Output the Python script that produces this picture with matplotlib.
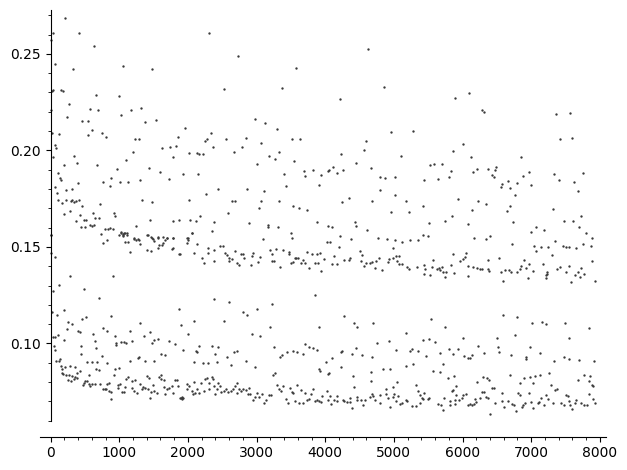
#!/usr/bin/env python3

import numpy as np
import matplotlib
matplotlib.use("Agg")
import matplotlib.pyplot as plt
from matplotlib.ticker import MultipleLocator, FormatStrFormatter

# points, (x, y), split by region of the picture
top_left = [
    (210,0.2684),(40,0.2607),(420,0.2607),(5,0.2572),(635,0.2540),(70,0.2447),(330,0.2421),(1060,0.2436),
    (1480,0.2421),(2310,0.2607),(2725,0.2488),(3570,0.2426),(2525,0.2317),(3370,0.2322),(15,0.2310),(40,0.2313),
    (150,0.2313),(185,0.2308),(665,0.2286),(1000,0.2281),(270,0.2240),(5,0.2210),(575,0.2214),(695,0.2210),
    (1320,0.2219),(1175,0.2210),(1030,0.2183),(240,0.2172),(460,0.2152),(550,0.2152),(1540,0.2157),(1375,0.2147),
    (2975,0.2164),(3120,0.2141),(1960,0.2116),(3295,0.2112),(605,0.2105),(15,0.2090),(125,0.2084),(550,0.2079),
    (750,0.2090),(810,0.2069),(1230,0.2059),(1290,0.2059),(1855,0.2069),(2335,0.2090),(2280,0.2059),(2250,0.2048),
    (2555,0.2059),(2845,0.2064),(3515,0.2059),(3630,0.2059),(70,0.2028),(80,0.2012),(1625,0.2012),(1740,0.2017),
    (1830,0.2022),(2365,0.2017),(2790,0.2017),(3065,0.2038),(2670,0.1991),(3325,0.1991),(40,0.1966),(345,0.1971),
    (1200,0.1991),(1785,0.1966),(2015,0.1986),(2135,0.1986),(2160,0.1981),(2220,0.1981),(3180,0.1971),(3270,0.1955),
    (200,0.1924),(390,0.1935),(680,0.1924),(1100,0.1950),(3005,0.1929),(3545,0.1945),(970,0.1904),(1435,0.1909),
    (3690,0.1893),(3820,0.1898),(110,0.1883),(1595,0.1888),(2150,0.1878),(1925,0.1878),(3400,0.1878),(3705,0.1869),
    (140,0.1858),(155,0.1847),(765,0.1838),(880,0.1858),(1015,0.1834),(1130,0.1838),(1305,0.1847),(1725,0.1852),
    (400,0.1831),(870,0.1815),(70,0.1810),(2440,0.1800),(2860,0.1800),(3110,0.1790),(3430,0.1815),(3910,0.1819),
    (230,0.1795),(315,0.1800),(95,0.1779),(2265,0.1774),(110,0.1745),(230,0.1745),(290,0.1736),(315,0.1745),
    (345,0.1733),(375,0.1736),(415,0.1745),(170,0.1728),(1335,0.1741),(1480,0.1733),(2015,0.1745),(2640,0.1740),
    (2685,0.1736),(720,0.1722),(460,0.1712),(3065,0.1736),(3035,0.1700),(3325,0.1736),(3530,0.1712),(3615,0.1700),
    (3735,0.1691),(285,0.1686),(200,0.1671),(620,0.1676),(925,0.1676),(940,0.1662),(430,0.1665),(2585,0.1676),
    (375,0.1633),(490,0.1639),(520,0.1639),(1450,0.1639),(1780,0.1635),(1870,0.1639),(2030,0.1639),(2120,0.1635),
    (2175,0.1660),(2380,0.1631),(2890,0.1624),(3880,0.1629),(445,0.1603),(505,0.1603),(575,0.1614),(605,0.1608),
    (635,0.1614),(650,0.1650),(710,0.1650),(795,0.1593),(840,0.1593),(870,0.1598),(915,0.1593),(1245,0.1609),
    (2060,0.1572),(2350,0.1583),(3165,0.1614),(3165,0.1603),(3310,0.1603),(3500,0.1572),(1030,0.1577),(1070,0.1572),
    (1115,0.1572),(1060,0.1562),(10,0.1562),(735,0.1566),(1420,0.1562),(1215,0.1546),(1275,0.1541),(1470,0.1546),
    (1570,0.1546),(1640,0.1551),(1700,0.1546),(1785,0.1546),(2000,0.1546),(3095,0.1541),(3515,0.1546),
]

bottom_left = [
    (760,0.1521),(815,0.1538),(995,0.1564),(1025,0.1573),(1060,0.1568),(1085,0.1573),(1115,0.1564),(1060,0.1555),
    (1085,0.1524),(1130,0.1524),(1160,0.1474),(1210,0.1542),(1250,0.1535),(1280,0.1538),(1300,0.1516),(1400,0.1564),
    (1455,0.1552),(1485,0.1542),(1510,0.1529),(1400,0.1486),(1455,0.1479),(1565,0.1552),(1615,0.1509),(1640,0.1521),
    (1670,0.1538),(1580,0.1512),(1700,0.1545),(1565,0.1493),(1785,0.1547),(1785,0.1495),(1765,0.1490),(1890,0.1465),
    (1875,0.1465),(1990,0.1547),(1990,0.1521),(2005,0.1538),(2065,0.1573),(2095,0.1469),(2135,0.1517),(2210,0.1443),
    (2240,0.1417),(2295,0.1495),(2295,0.1469),(2385,0.1486),(2385,0.1429),(2470,0.1507),(2515,0.1507),(2545,0.1469),
    (2570,0.1459),(2600,0.1429),(2600,0.1443),(2645,0.1438),(2690,0.1479),(2720,0.1417),(2745,0.1407),(2775,0.1465),
    (2805,0.1465),(2820,0.1443),(2920,0.1407),(2935,0.1452),(2950,0.1469),(3025,0.1424),(3050,0.1448),(3200,0.1483),
    (3220,0.1465),(3230,0.1429),(3260,0.1429),(3290,0.1490),(3380,0.1483),(3340,0.1396),(3465,0.1465),(3465,0.1476),
    (3495,0.1417),(3525,0.1424),(3555,0.1443),(3580,0.1443),(3610,0.1443),(3640,0.1417),(3670,0.1434),(3700,0.1417),
    (3730,0.1476),(3770,0.1391),(3800,0.1465),(3875,0.1465),(3855,0.1417),(3900,0.1417),(5,0.1564),(5,0.1469),
    (70,0.1448),(285,0.1351),(915,0.1351),(40,0.1272),(490,0.1282),(125,0.1303),(710,0.1235),(15,0.1163),
    (200,0.1173),(95,0.1147),(1875,0.1178),(2385,0.1230),(2600,0.1215),(3230,0.1204),(3010,0.1178),(3855,0.1251),
    (255,0.1111),(315,0.1100),(460,0.1126),(520,0.1137),(885,0.1142),(2090,0.1116),(2530,0.1116),(2805,0.1163),
    (2865,0.1147),(245,0.1074),(405,0.1064),(430,0.1061),(765,0.1080),(825,0.1064),(1160,0.1064),(1305,0.1106),
    (1450,0.1059),(1895,0.1095),(3200,0.1085),(3910,0.1085),(40,0.1033),(70,0.1033),(110,0.1043),(200,0.1017),
    (620,0.1048),(650,0.1012),(940,0.1038),(1030,0.1007),(1075,0.1007),(1100,0.1002),(955,0.0991),(955,0.1002),
    (1190,0.1012),(1365,0.1038),(1480,0.1002),(1510,0.1017),(1570,0.1023),(1730,0.1012),(1815,0.0997),(2005,0.1048),
    (2155,0.0986),(2355,0.0986),(2440,0.0981),(2935,0.1048),(3055,0.1038),(3255,0.0981),(55,0.0986),(70,0.0965),
    (445,0.0986),(665,0.0976),(3710,0.0997),(3765,0.0981),(3825,0.0976),(3885,0.0965),(85,0.0908),(125,0.0908),
    (140,0.0919),(445,0.0945),(535,0.0903),(605,0.0903),(680,0.0903),(750,0.0934),(825,0.0898),(1160,0.0908),
    (1275,0.0924),(1290,0.0929),(1380,0.0908),(1510,0.0908),(1610,0.0945),(1670,0.0940),(1930,0.0965),(2090,0.0903),
    (2120,0.0960),(2135,0.0955),(2225,0.0898),(2295,0.0898),(2400,0.0945),(2425,0.0903),(2565,0.0929),(2630,0.0888),
    (2675,0.0955),(2720,0.0960),(2850,0.0908),(2980,0.0877),(3345,0.0929),(3375,0.0940),(3445,0.0955),(3535,0.0960),
    (3590,0.0955),(3680,0.0945),(155,0.0882),(170,0.0867),(215,0.0877),(285,0.0882),(360,0.0877),(170,0.0846),
    (185,0.0841),(230,0.0836),(270,0.0836),(315,0.0831),(360,0.0825),(255,0.0810),(300,0.0805),(345,0.0815),
    (390,0.0820),(390,0.0846),(430,0.0856),(490,0.0794),(505,0.0805),(475,0.0784),(535,0.0805),(565,0.0789),
    (580,0.0779),(605,0.0789),(565,0.0836),(650,0.0789),(725,0.0789),(665,0.0867),(710,0.0862),(825,0.0789),
    (855,0.0794),(765,0.0763),(795,0.0763),(810,0.0763),(940,0.0867),(1000,0.0872),(925,0.0836),(985,0.0784),
    (1015,0.0789),(985,0.0768),(885,0.0747),(855,0.0753),(885,0.0711),(1085,0.0773),(1100,0.0815),(1130,0.0825),
    (1045,0.0747),(1075,0.0747),(1190,0.0805),(1235,0.0810),(1190,0.0768),(1220,0.0753),(1260,0.0742),(1305,0.0789),
    (1335,0.0763),(1350,0.0773),(1410,0.0831),(1435,0.0820),(1380,0.0768),(1420,0.0763),(1465,0.0747),(1510,0.0753),
    (1555,0.0742),(1450,0.0716),(1495,0.0784),(1580,0.0825),(1610,0.0836),(1610,0.0815),(1655,0.0810),(1655,0.0773),
    (1670,0.0737),(1700,0.0763),(1730,0.0768),(1770,0.0779),(1785,0.0742),(1815,0.0810),(1845,0.0810),(1860,0.0779),
    (1890,0.0716),(1915,0.0722),(1930,0.0716),(1915,0.0711),(1905,0.0716),(1990,0.0789),(1990,0.0763),(2020,0.0779),
    (2065,0.0753),(2090,0.0799),(2080,0.0737),(2105,0.0742),(2135,0.0763),(2165,0.0742),(2195,0.0794),(2240,0.0753),
    (2250,0.0815),(2280,0.0820),(2310,0.0794),(2310,0.0763),(2355,0.0825),(2370,0.0815),(2385,0.0779),(2400,0.0737),
    (2425,0.0763),(2440,0.0794),(2470,0.0779),(2485,0.0747),(2530,0.0753),(2560,0.0763),(2585,0.0747),(2630,0.0753),
    (2660,0.0763),(2690,0.0779),(2720,0.0794),(2720,0.0742),(2745,0.0763),(2775,0.0753),(2805,0.0763),(2850,0.0758),
    (2880,0.0737),(2895,0.0768),(2910,0.0737),(2950,0.0706),(2980,0.0722),(3010,0.0742),(3040,0.0722),(3080,0.0737),
    (3110,0.0690),(3140,0.0706),(3185,0.0732),(3215,0.0732),(3240,0.0836),(3270,0.0846),(3300,0.0784),(3330,0.0763),
    (3360,0.0753),(3390,0.0779),(3430,0.0711),(3460,0.0690),(3490,0.0768),(3520,0.0747),(3535,0.0742),(3565,0.0701),
    (3590,0.0784),(3620,0.0690),(3650,0.0758),(3680,0.0690),(3710,0.0742),(3740,0.0706),(3765,0.0711),(3795,0.0737),
    (3825,0.0763),(3855,0.0701),(3885,0.0706),(3910,0.0867),(3910,0.0701),
]

top_right = [
    (4630,0.2524),(4850,0.2327),(4210,0.2265),(5895,0.2270),(6100,0.2296),(6290,0.2208),(6315,0.2198),(7365,0.2188),
    (7570,0.2193),(7420,0.2058),(7595,0.2063),(4965,0.2095),(5285,0.2100),(4600,0.2048),(4570,0.2001),(6010,0.2032),
    (5865,0.1996),(4235,0.1981),(5110,0.1970),(6130,0.1965),(6855,0.1965),(4455,0.1934),(5530,0.1924),(5590,0.1929),
    (5705,0.1929),(4660,0.1908),(4035,0.1893),(4060,0.1898),(4120,0.1914),(4165,0.1882),(4265,0.1898),(3945,0.1872),
    (4805,0.1862),(4875,0.1857),(5020,0.1862),(5445,0.1846),(5650,0.1851),(5810,0.1862),(5835,0.1893),(6155,0.1888),
    (6215,0.1903),(6375,0.1903),(6435,0.1872),(6460,0.1862),(6475,0.1898),(6490,0.1914),(6565,0.1810),(6580,0.1826),
    (6665,0.1841),(6695,0.1805),(6795,0.1831),(6770,0.1769),(6885,0.1867),(6970,0.1888),(7000,0.1820),(7335,0.1877),
    (7410,0.1846),(7625,0.1836),(7685,0.1789),(7755,0.1882),(4805,0.1795),(4675,0.1738),(4250,0.1732),(4340,0.1753),
    (5010,0.1769),(5180,0.1738),(5940,0.1748),(6230,0.1738),(6345,0.1722),(5430,0.1712),(4965,0.1681),(5225,0.1681),
    (6140,0.1691),(6650,0.1686),(6695,0.1712),(7320,0.1696),(4035,0.1608),(4105,0.1603),(4440,0.1629),(4455,0.1608),
    (4615,0.1588),(5515,0.1624),(5750,0.1634),(5850,0.1660),(6085,0.1619),(6740,0.1629),(7000,0.1577),(7075,0.1603),
    (7190,0.1588),(7480,0.1634),(7610,0.1634),(7700,0.1603),(7730,0.1660),(7800,0.1572),(7890,0.1546),(4220,0.1557),
    (4370,0.1541),(4775,0.1546),(4905,0.1541),(5430,0.1562),(5490,0.1557),(6170,0.1546),(6405,0.1557),(6345,0.1541),
]

bottom_right = [
    (5010,0.1536),(5125,0.1526),(5240,0.1536),(5355,0.1536),(7875,0.1505),(4020,0.1526),(4065,0.1526),(4195,0.1500),
    (6725,0.1516),(7045,0.1505),(7075,0.1479),(7145,0.1500),(7250,0.1500),(7305,0.1459),(7350,0.1531),(7465,0.1505),
    (7510,0.1500),(7555,0.1500),(7655,0.1495),(7755,0.1516),(3930,0.1469),(3975,0.1438),(3945,0.1375),(4135,0.1453),
    (4105,0.1412),(4165,0.1412),(4280,0.1433),(4355,0.1443),(4340,0.1433),(4500,0.1479),(4530,0.1459),(4515,0.1427),
    (4570,0.1401),(4600,0.1417),(4645,0.1417),(4675,0.1422),(4745,0.1427),(4730,0.1391),(4790,0.1443),(4820,0.1381),
    (4920,0.1422),(4935,0.1438),(4980,0.1495),(4980,0.1443),(5025,0.1453),(5050,0.1427),(5080,0.1453),(5080,0.1412),
    (5125,0.1412),(5185,0.1396),(5225,0.1386),(5330,0.1396),(5445,0.1407),(5460,0.1386),(5445,0.1360),(5530,0.1355),
    (5575,0.1433),(5560,0.1396),(5635,0.1386),(5660,0.1391),(5675,0.1381),(5705,0.1396),(5720,0.1370),(5750,0.1344),
    (5765,0.1370),(5835,0.1407),(5865,0.1464),(5880,0.1365),(5970,0.1427),(6010,0.1438),(6040,0.1448),(6055,0.1469),
    (6085,0.1401),(6085,0.1350),(6155,0.1396),(6215,0.1391),(6260,0.1386),(6290,0.1386),(6375,0.1433),(6375,0.1386),
    (6390,0.1375),(6535,0.1443),(6565,0.1370),(6595,0.1324),(6625,0.1381),(6680,0.1381),(6710,0.1370),(6795,0.1370),
    (6840,0.1386),(6855,0.1401),(6900,0.1433),(6930,0.1391),(6955,0.1339),(6970,0.1412),(7030,0.1375),(7175,0.1412),
    (7220,0.1339),(7220,0.1355),(7235,0.1370),(7235,0.1360),(7380,0.1386),(7420,0.1396),(7510,0.1370),(7555,0.1401),
    (7580,0.1318),(7640,0.1355),(7685,0.1370),(7715,0.1344),(7730,0.1391),(7770,0.1360),(7890,0.1427),(7930,0.1324),
    (4280,0.1142),(6595,0.1147),(6795,0.1137),(4470,0.1085),(4700,0.1106),(4425,0.1106),(5545,0.1126),(5750,0.1085),
    (7015,0.1106),(7160,0.1113),(7220,0.1100),(7495,0.1106),(7845,0.1080),(5180,0.1054),(6000,0.1028),(6505,0.1028),
    (5810,0.0971),(6520,0.0981),(6770,0.1043),(7555,0.1028),(5430,0.1017),(5515,0.1023),(5605,0.1007),(4760,0.1002),
    (4935,0.1012),(5035,0.0965),(5270,0.0971),(5240,0.0960),(5355,0.0960),(5475,0.0934),(5665,0.0950),(5865,0.0945),
    (6025,0.0934),(6140,0.0940),(6085,0.0924),(6115,0.0924),(6230,0.0986),(6315,0.0950),(6535,0.0955),(6710,0.0940),
    (6985,0.0981),(6930,0.0929),(6930,0.0919),(7130,0.0950),(7335,0.0908),(7480,0.0929),(7555,0.0919),(7700,0.0914),
    (7915,0.0908),(4235,0.0955),(4250,0.0960),(4395,0.0945),(4455,0.0976),(4530,0.0940),(4675,0.0929),(4005,0.0903),
    (4035,0.0841),(4060,0.0846),(3930,0.0856),(4105,0.0924),(4235,0.0877),(4410,0.0831),(4425,0.0773),(4660,0.0851),
    (4660,0.0805),(4835,0.0867),(4950,0.0867),(5050,0.0799),(5170,0.0882),(5285,0.0893),(5575,0.0856),(5665,0.0851),
    (5720,0.0893),(5795,0.0820),(5880,0.0831),(5910,0.0779),(5940,0.0971),(6215,0.0799),(6300,0.0825),(6360,0.0820),
    (6390,0.0810),(6460,0.0768),(6695,0.0836),(6840,0.0794),(6900,0.0820),(6985,0.0825),(7030,0.0794),(7060,0.0831),
    (7130,0.0836),(7260,0.0846),(7290,0.0784),(7350,0.0758),(7380,0.0763),(7685,0.0810),(7770,0.0836),(7860,0.0831),
    (7890,0.0784),(7900,0.0779),(7845,0.0805),(3945,0.0696),(3960,0.0727),(4020,0.0753),(4035,0.0706),(4075,0.0727),
    (4090,0.0685),(4135,0.0706),(4165,0.0727),(4165,0.0701),(4265,0.0706),(4280,0.0701),(4310,0.0696),(4355,0.0696),
    (4355,0.0716),(4383,0.0664),(4470,0.0706),(4470,0.0722),(4515,0.0706),(4555,0.0680),(4585,0.0706),(4645,0.0722),
    (4675,0.0737),(4700,0.0727),(4730,0.0706),(4805,0.0690),(4805,0.0732),(4890,0.0737),(4890,0.0763),(4920,0.0716),
    (4950,0.0670),(4980,0.0773),(4980,0.0722),(4995,0.0737),(5025,0.0701),(5065,0.0727),(5095,0.0685),(5125,0.0690),
    (5170,0.0706),(5195,0.0701),(5270,0.0675),(5315,0.0675),(5315,0.0784),(5345,0.0753),(5385,0.0732),(5385,0.0690),
    (5415,0.0716),(5430,0.0711),(5445,0.0742),(5490,0.0711),(5515,0.0716),(5650,0.0685),(5720,0.0654),(5690,0.0680),
    (5735,0.0716),(5820,0.0701),(5820,0.0680),(5850,0.0753),(5865,0.0758),(5895,0.0706),(5895,0.0685),(5910,0.0732),
    (5955,0.0706),(5995,0.0716),(6010,0.0732),(6055,0.0737),(6085,0.0680),(6115,0.0685),(6140,0.0680),(6170,0.0685),
    (6185,0.0711),(6200,0.0696),(6260,0.0716),(6290,0.0747),(6315,0.0747),(6345,0.0722),(6375,0.0716),(6405,0.0633),
    (6435,0.0768),(6475,0.0690),(6580,0.0742),(6580,0.0701),(6610,0.0670),(6665,0.0701),(6725,0.0685),(6755,0.0680),
    (6780,0.0649),(6810,0.0742),(6840,0.0732),(6870,0.0670),(6885,0.0680),(6915,0.0690),(6970,0.0742),(7000,0.0696),
    (7030,0.0664),(7100,0.0690),(7115,0.0696),(7145,0.0716),(7190,0.0680),(7220,0.0732),(7250,0.0711),(7320,0.0690),
    (7435,0.0690),(7480,0.0680),(7510,0.0732),(7540,0.0727),(7555,0.0701),(7570,0.0680),(7600,0.0659),(7640,0.0690),
    (7655,0.0706),(7730,0.0690),(7770,0.0680),(7815,0.0680),(7845,0.0737),(7900,0.0711),(7930,0.0690),
]

pts = np.array(top_left + bottom_left + top_right + bottom_right)

fig = plt.figure(figsize=(6.27, 4.70), dpi=100)
ax = fig.add_axes([0.0638, 0.0709, 0.9027, 0.9078])

ax.plot(pts[:, 0], pts[:, 1], linestyle='none', marker='o',
        markersize=1.7, markeredgewidth=0, color='#3a3a3a')

ax.set_xlim(-155, 8090)
ax.set_ylim(0.0517, 0.2727)

# sage-like axes: y axis sits at x=0, x axis along the bottom
ax.spines['top'].set_visible(False)
ax.spines['right'].set_visible(False)
ax.spines['left'].set_position(('data', 0))
ax.spines['left'].set_bounds(0.06, 0.2727)

ax.xaxis.set_major_locator(MultipleLocator(1000))
ax.xaxis.set_minor_locator(MultipleLocator(200))
ax.yaxis.set_major_locator(MultipleLocator(0.05))
ax.yaxis.set_minor_locator(MultipleLocator(0.01))
ax.yaxis.set_major_formatter(FormatStrFormatter('%.2f'))
ax.set_yticks([0.10, 0.15, 0.20, 0.25])

plt.savefig('out.png', dpi=100)
